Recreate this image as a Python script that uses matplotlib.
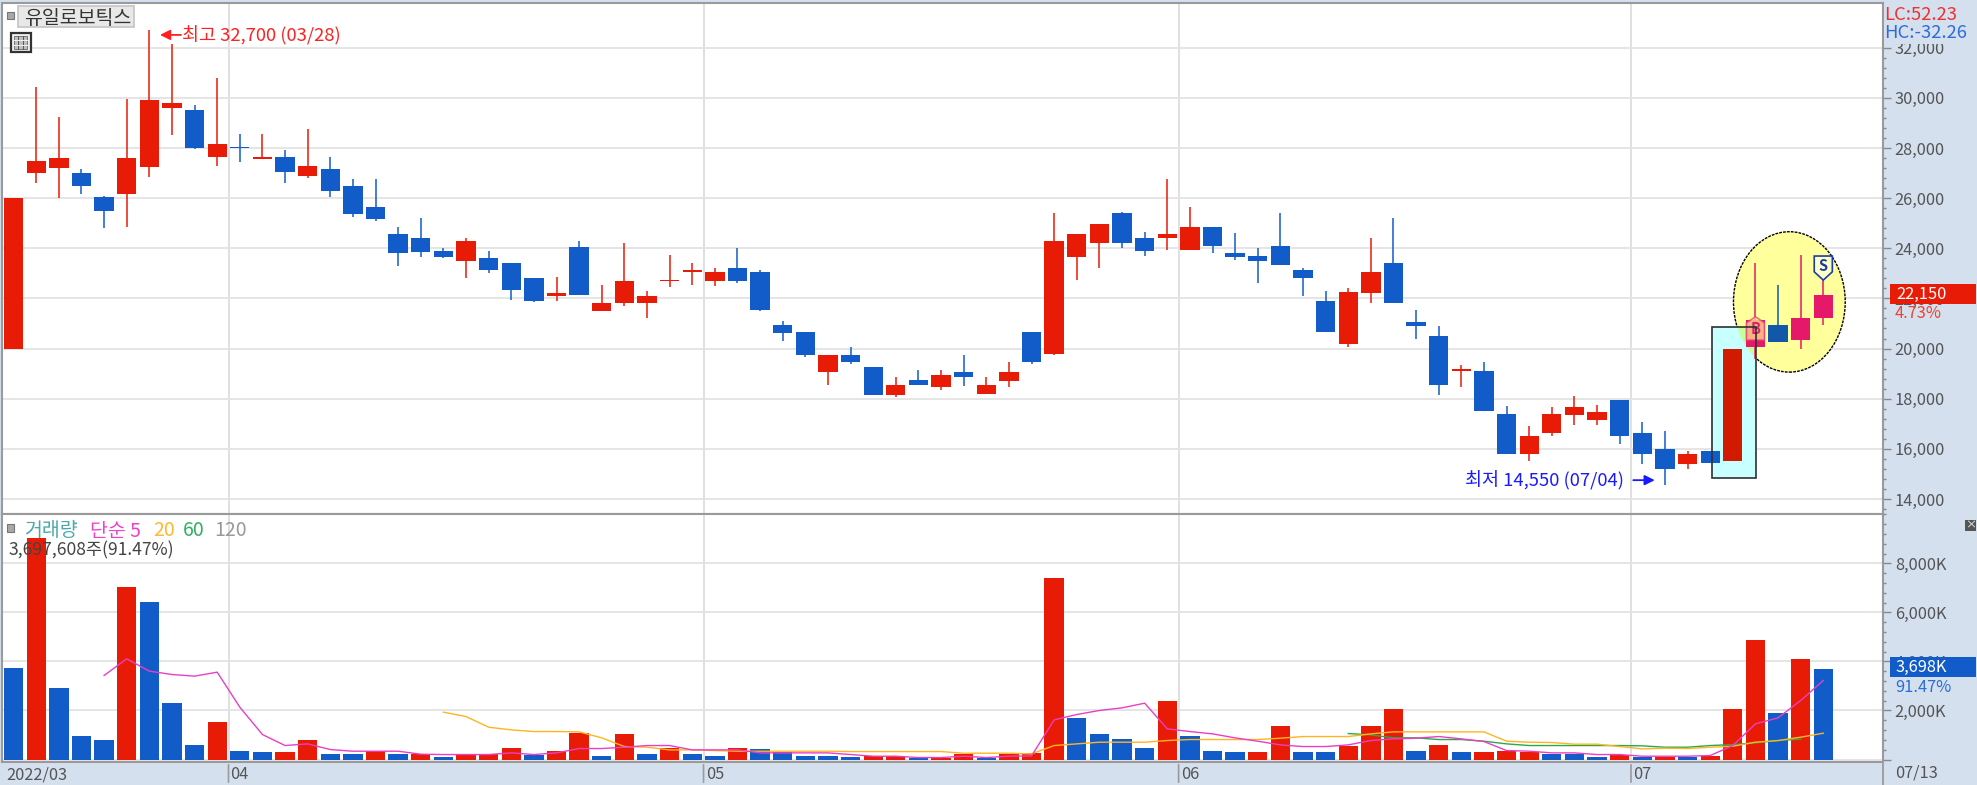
import matplotlib
matplotlib.use("Agg")
import matplotlib.pyplot as plt
from matplotlib.patches import Ellipse, Rectangle, Polygon
from matplotlib.ticker import MultipleLocator, FuncFormatter

plt.rcParams['font.family'] = ['Noto Sans CJK KR', 'DejaVu Sans']

# ---------- data ----------
body_top = [26000,27500,27600,27000,26050,27600,29900,29800,29500,28150,28050,27650,27650,27300,27150,26500,25650,24550,24400,23900,
            24300,23600,23400,22800,22200,24050,21800,22700,22100,22750,23150,23050,23200,23050,20950,20650,19750,19750,19250,18550,
            18750,18950,19050,18550,19050,20650,24300,24550,24950,25400,24400,24550,24850,24850,23800,23700,24100,23150,21900,22250,
            23050,23400,21050,20500,19200,19100,17400,16500,17400,17650,17450,17950,16650,16000,15800,15900,20000,21150,20950,21200,22150]
body_bot = [20000,27000,27200,26500,25500,26150,27250,29600,28000,27650,28000,27550,27050,26900,26300,25350,25150,23800,23850,23650,
            23500,23150,22350,21900,22100,22150,21500,21800,21800,22700,23050,22700,22700,21550,20600,19750,19050,19450,18150,18150,
            18550,18450,18850,18200,18700,19450,19800,23650,24200,24200,23900,24400,23950,24100,23650,23500,23350,22800,20650,20200,
            22200,21800,20900,18550,19100,17500,15800,15800,16650,17350,17150,16500,15800,15200,15400,15450,15500,20050,20250,20350,21200]
highs = [26000,30450,29250,27150,26100,29950,32700,32150,29700,30800,28550,28550,27900,28750,27650,26750,26750,24850,25200,24000,
         24400,23900,23400,22800,22850,24300,22550,24200,22300,23750,23400,23200,24000,23150,21100,20650,19750,20050,19250,18850,
         19150,19150,19750,18850,19450,20650,25400,24550,24950,25450,24650,26750,25650,24850,24600,24000,25400,23200,22300,22400,
         24400,25200,21550,20900,19350,19450,17700,16900,17650,18100,17750,17950,17050,16700,15900,15900,20000,23400,22550,23750,22800]
lows = [20000,26600,26000,26150,24800,24850,26850,28500,27950,27300,27450,27550,26600,26800,26050,25250,25100,23300,23650,23600,
        22800,23000,21950,21850,21900,22150,21500,21700,21200,22450,22550,22500,22600,21500,20300,19650,18550,19400,18150,18050,
        18550,18350,18500,18200,18450,19400,19750,22750,23200,24000,23700,23950,23950,23800,23550,22600,23350,22100,20650,20050,
        21800,21800,20400,18150,18450,17500,15800,15500,16500,16950,16950,16200,15400,14550,15200,15450,15500,19600,20250,20000,20950]
# True = red candle
candle_up = [1,1,1,0,0,1,1,1,0,1,0,1,0,1,0,0,0,0,0,0, 1,0,0,0,1,0,1,1,1,1,1,1,0,0,0,0,1,0,0,1,
             0,1,0,1,1,0,1,1,1,0,0,1,1,0,0,0,0,0,0,1, 1,0,0,0,1,0,0,1,1,1,1,0,0,0,1,0,1,1,0,1,1]

volume = [3726,9044,2924,966,789,7031,6419,2312,598,1523,354,299,299,789,231,231,354,231,231,109,
          231,231,476,190,367,1088,163,1034,231,476,231,163,476,422,299,163,163,95,163,163,
          68,82,231,68,231,286,7398,1700,1034,843,476,2380,952,354,299,299,1387,299,299,558,
          1387,2067,354,598,299,299,354,299,231,231,109,190,109,122,122,163,2067,4882,1890,4094,3698]
volume_up = [0,1,0,0,0,1,0,0,0,1,0,0,1,1,0,0,1,0,1,0, 1,1,1,0,1,1,0,1,0,1,0,0,1,0,0,0,0,0,1,1,
             0,1,1,0,1,1,1,0,0,0,0,1,0,0,0,1,1,0,0,1, 1,1,0,1,0,1,1,1,0,0,0,1,0,1,0,1,1,1,0,1,0]

ma5_start = 4
ma5 = [3427,4107,3604,3468,3400,3563,2135,1020,571,639,408,340,340,340,218,204,204,204,272,204,
       272,449,449,503,571,571,394,394,394,272,272,272,272,204,136,136,82,82,136,82,
       136,150,1618,1836,2000,2108,2298,1251,1142,1047,884,748,598,530,530,598,775,843,870,938,
       843,734,367,340,272,272,204,204,136,136,136,163,571,1455,1700,2407,3223]
ma20_start = 19
ma20 = [1931,1754,1319,1210,1142,1142,1129,884,530,503,394,394,367,340,340,340,340,340,326,326,
        326,326,326,258,258,258,231,571,639,707,707,707,775,816,816,816,816,870,938,938,
        938,1047,1129,1129,1129,1129,1129,748,707,694,626,626,530,435,462,449,503,544,707,775,911,1074]
ma60_start = 59
ma60 = [1061,1006,884,884,816,816,748,639,571,571,571,571,571,558,503,503,571,612,680,775,830]

price_ticks = [14000,16000,18000,20000,22000,24000,26000,28000,30000,32000]
volume_ticks = [2000,4000,6000,8000]
month_labels = ['2022/03','04','05','06','07']
month_starts = [0,10,31,52,72]

RED, BLUE, PINK = '#E81B07', '#125CC9', '#E6186A'
PANEL, GRID, AXIS, TXT = '#D5E0EF', '#E3E3E3', '#9A9A9A', '#555555'
W, H = 1977, 785

fig = plt.figure(figsize=(W/100, H/100), dpi=100, facecolor=PANEL)
def rect(l, t, r, b):
    return [l/W, 1-b/H, (r-l)/W, (b-t)/H]
def fx(x): return x/W
def fy(y): return 1-y/H

ax = fig.add_axes(rect(2, 3, 1883, 514))
axv = fig.add_axes(rect(2, 514, 1883, 762))
xlim = (-0.513, 82.64)
for a in (ax, axv):
    a.set_xlim(*xlim)
    a.set_axisbelow(True)
    for s in a.spines.values():
        s.set_color(AXIS); s.set_linewidth(1.5)
    a.set_xticks([m-0.5 for m in month_starts[1:]])
    a.tick_params(axis='x', length=0, labelbottom=False)
    a.grid(True, axis='x', color='#DDDDDD', lw=1.3)
    a.grid(True, axis='y', which='major', color=GRID, lw=1.3)
    a.yaxis.tick_right()
    a.yaxis.set_major_formatter(FuncFormatter(lambda v, p: ''))
    a.tick_params(axis='y', which='major', length=6, width=1, color='#888888', labelcolor=TXT, labelsize=11.8, pad=2.5)
    a.tick_params(axis='y', which='minor', length=2.5, width=1, color='#888888')

ax.set_ylim(13400, 33783)
ax.set_yticks(price_ticks)
ax.yaxis.set_minor_locator(MultipleLocator(400))
ax.yaxis.set_major_formatter(FuncFormatter(lambda v, p: f'{int(v):,}'))

axv.set_ylim(-100, 10012)
axv.set_yticks([0] + volume_ticks)
axv.yaxis.set_minor_locator(MultipleLocator(400))
axv.yaxis.set_major_formatter(FuncFormatter(lambda v, p: f'{int(v):,}K' if v > 0 else ''))

# ---------- highlights ----------
ell = Ellipse((78.5, 21860), 4.94, 5600, fc='#FFFF9C', ec='black', lw=1.0, ls=(0, (2, 0.8)), zorder=1.5)
ax.add_patch(ell)
hi = Rectangle((75.08, 14820), 1.94, 6050, fc='#C8FFFF', ec='none', zorder=2)
ax.add_patch(hi)
ov = Rectangle((75.08, 14820), 1.94, 6050, fc='#C4FF9C', ec='none', zorder=2.1)
ax.add_patch(ov)
ov.set_clip_path(ell)
ax.add_patch(Rectangle((75.08, 14820), 1.94, 6050, fc='none', ec='#303030', lw=1.2, zorder=4))

# ---------- candles ----------
w = 0.855
for i in range(len(body_top)):
    c = RED if candle_up[i] else BLUE
    if i == 76: c = '#D21A00'
    if i in (77, 79, 80): c = PINK
    if i == 78: c = '#1258A8'
    ax.vlines(i, lows[i], highs[i], color=c, lw=1.1, zorder=3)
    ax.bar(i, body_top[i]-body_bot[i], bottom=body_bot[i], width=w, color=c, zorder=3.1)

# signal markers
ax.add_patch(Polygon([(76.6, 20340), (76.6, 21020), (77, 21270), (77.4, 21020), (77.4, 20340)], closed=True,
                     fc='#FFE88C', ec='#F0407A', lw=1.2, alpha=0.75, zorder=3.3))
ax.text(77, 20760, 'B', color='#D8206A', fontsize=10.5, fontweight='bold', ha='center', va='center', zorder=3.4)
ax.add_patch(Polygon([(79.6, 23690), (80.4, 23690), (80.4, 23060), (80, 22730), (79.6, 23060)], closed=True,
                     fc='#FFFFC8', ec='#1E3CA8', lw=1.2, zorder=3.3))
ax.text(80, 23300, 'S', color='#1E3CA8', fontsize=10.5, fontweight='bold', ha='center', va='center', zorder=3.4)

# high / low notes
ax.annotate('', xy=(6.47, 32510), xytext=(7.4, 32510),
            arrowprops=dict(arrowstyle='-|>', color='#FF2020', lw=1.3, mutation_scale=15, shrinkA=0, shrinkB=0), zorder=5)
ax.text(7.45, 32510, '최고 32,700 (03/28)', color='#FF2020', fontsize=13.3, va='center', ha='left', zorder=5)
ax.annotate('', xy=(72.55, 14750), xytext=(71.6, 14750),
            arrowprops=dict(arrowstyle='-|>', color='#1A1AFF', lw=1.3, mutation_scale=15, shrinkA=0, shrinkB=0), zorder=5)
ax.text(71.2, 14750, '최저 14,550 (07/04)', color='#1A1AFF', fontsize=13.3, va='center', ha='right', zorder=5)

# ---------- volume ----------
xs = list(range(len(volume)))
axv.bar(xs, volume, width=w, color=[RED if u else BLUE for u in volume_up], zorder=3)
axv.plot(range(ma60_start, ma60_start+len(ma60)), ma60, color='#2CA84C', lw=1.0, zorder=4)
axv.plot(range(ma20_start, ma20_start+len(ma20)), ma20, color='#FFB520', lw=1.0, zorder=4.1)
axv.plot(range(ma5_start, ma5_start+len(ma5)), ma5, color='#EA3FC4', lw=1.0, zorder=4.2)

# ---------- date strip ----------
for m, lab in zip(month_starts, month_labels):
    pos = m-0.5 if m else -0.4
    axv.annotate(lab, (pos, 0), xycoords=('data', 'axes fraction'), xytext=(1.5, -9), textcoords='offset points',
                 color=TXT, fontsize=11.8, va='center', ha='left', annotation_clip=False)
    if m:
        axv.annotate('', (m-0.5, -23/248), xytext=(m-0.5, 0), xycoords=('data', 'axes fraction'),
                     textcoords=('data', 'axes fraction'), arrowprops=dict(arrowstyle='-', color=AXIS, lw=1.2),
                     annotation_clip=False)

# ---------- figure level overlays ----------
def ftext(x, y, s, **kw):
    kw.setdefault('va', 'center'); kw.setdefault('ha', 'left'); kw.setdefault('zorder', 7)
    fig.text(fx(x), fy(y), s, **kw)
def frect(l, t, r, b, **kw):
    kw.setdefault('zorder', 6)
    fig.add_artist(Rectangle((fx(l), fy(b)), (r-l)/W, (b-t)/H, transform=fig.transFigure, **kw))

fig.add_artist(plt.Line2D([fx(1883)]*2, [fy(764), fy(785)], color=AXIS, lw=1.3))
ftext(1895, 773, '07/13', color=TXT, fontsize=11.8)

frect(1884, 4, 1977, 44, fc=PANEL, ec='none')
ftext(1884, 15, 'LC:52.23', color='#F03030', fontsize=13.3)
ftext(1884, 33, 'HC:-32.26', color='#2E6CD8', fontsize=13.3)

frect(1890, 284, 1976, 304, fc=RED, ec='none')
ftext(1896, 294, '22,150', color='white', fontsize=11.8)
ftext(1895, 314, '4.73%', color='#F04030', fontsize=11.8)

frect(1890, 657, 1976, 677, fc=BLUE, ec='none')
ftext(1896, 667, '3,698K', color='white', fontsize=11.8)
ftext(1895, 688, '91.47%', color='#2A6CD8', fontsize=11.8)

frect(1965, 520, 1976, 531, fc='#555555', ec='none')
ftext(1970.5, 525, '×', color='white', fontsize=8, ha='center')

# title box and icons
frect(7, 12, 14, 19, fc='#A8A8A8', ec='#777777', lw=0.8)
frect(18, 6, 134, 27, fc='#E8E8E8', ec='#C4C4C4', lw=1.2)
ftext(24, 18, '유일로보틱스', color='#333333', fontsize=14)
frect(10.5, 33, 30.5, 52, fc='#F0F0F0', ec='#333333', lw=1.6)
frect(14, 36, 27, 49, fc='#BFBFBF', ec='#666666', lw=0.6)
for gx in (18.3, 22.6):
    fig.add_artist(plt.Line2D([fx(gx)]*2, [fy(36), fy(49)], color='#555555', lw=0.7, zorder=7))
for gy in (40.3, 44.6):
    fig.add_artist(plt.Line2D([fx(14), fx(27)], [fy(gy)]*2, color='#F0F0F0', lw=0.7, zorder=7))

# volume legend
frect(7, 524, 14, 532, fc='#A8A8A8', ec='#777777', lw=0.8)
ftext(24, 531, '거래량', color='#4CA8A8', fontsize=14)
ftext(90, 531, '단순 5', color='#F040C8', fontsize=14)
ftext(153, 531, '20', color='#FFB830', fontsize=14)
ftext(183, 531, '60', color='#30B060', fontsize=14)
ftext(214, 531, '120', color='#999999', fontsize=14)
ftext(9, 550, '3,697,608주(91.47%)', color='#444444', fontsize=12.6)

fig.savefig('out.png', dpi=100, facecolor=fig.get_facecolor())
